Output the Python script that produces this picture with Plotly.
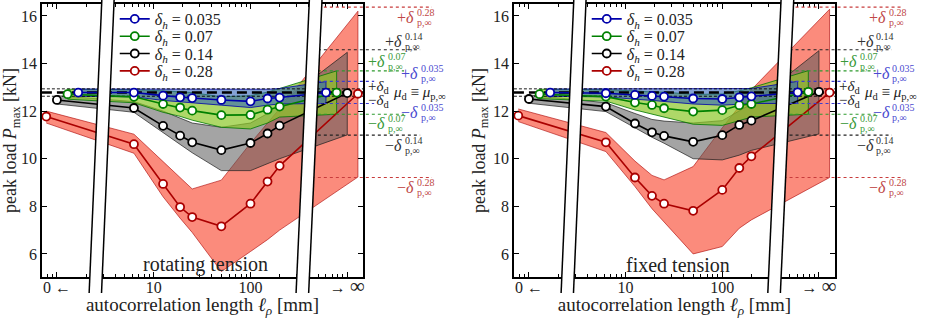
import plotly.graph_objects as go

# ---------------- data ----------------
ell = [6.25, 12.5, 18.75, 25, 50, 100, 150, 200]          # autocorrelation lengths [mm]
tick_vals = [1, 10, 100, 1000]
tick_text = ["0 ←", "10", "100", "→ <span style='font-size:21px'>∞</span>"]
y_ticks = [6, 8, 10, 12, 14, 16]
delta_h = ["0.035", "0.07", "0.14", "0.28"]
panel_titles = ["rotating tension", "fixed tension"]

mu_d = 12.78
delta_d = 0.155
inf_upper = [13.25, 13.69, 14.58, 16.37]     # +delta_p,inf per delta_h
inf_lower = [12.32, 11.87, 10.99, 9.21]      # -delta_p,inf per delta_h

# each list: [ell->0, ell values..., ell->inf]
rot_mean_035 = [12.78, 12.78, 12.65, 12.58, 12.55, 12.47, 12.41, 12.53, 12.57, 12.78]
rot_hi_035 = [12.93, 12.93, 12.92, 12.92, 12.92, 12.90, 12.90, 12.92, 12.95, 13.24]
rot_lo_035 = [12.62, 12.60, 12.45, 12.40, 12.35, 12.25, 12.15, 12.25, 12.30, 12.32]
rot_mean_07 = [12.71, 12.60, 12.30, 12.15, 12.02, 11.83, 11.84, 12.06, 12.19, 12.78]
rot_hi_07 = [12.92, 12.90, 12.85, 12.80, 12.78, 12.60, 12.65, 12.80, 12.95, 13.69]
rot_lo_07 = [12.50, 12.35, 11.95, 11.78, 11.62, 11.32, 11.25, 11.50, 11.75, 11.87]
rot_mean_14 = [12.47, 12.13, 11.38, 10.97, 10.69, 10.36, 10.66, 11.06, 11.39, 12.76]
rot_hi_14 = [12.65, 12.40, 12.00, 11.70, 11.50, 11.32, 11.50, 11.90, 12.30, 14.47]
rot_lo_14 = [12.30, 11.95, 11.10, 10.60, 10.25, 9.50, 9.50, 9.80, 10.00, 11.00]
rot_mean_28 = [11.77, 10.61, 8.94, 7.97, 7.55, 7.16, 8.11, 9.04, 9.70, 12.73]
rot_hi_28 = [12.00, 11.03, 9.88, 9.21, 8.73, 9.10, 10.65, 11.50, 12.10, 16.20]
rot_lo_28 = [11.50, 10.23, 8.40, 7.50, 6.90, 5.26, 6.10, 6.60, 7.00, 9.23]

fix_mean_035 = [12.78, 12.75, 12.68, 12.64, 12.61, 12.53, 12.51, 12.58, 12.62, 12.79]
fix_hi_035 = [12.93, 12.93, 12.93, 12.92, 12.92, 12.92, 12.92, 12.93, 12.95, 13.25]
fix_lo_035 = [12.62, 12.60, 12.50, 12.45, 12.42, 12.30, 12.25, 12.30, 12.32, 12.32]
fix_mean_07 = [12.71, 12.61, 12.36, 12.26, 12.12, 11.98, 12.04, 12.25, 12.30, 12.81]
fix_hi_07 = [12.92, 12.90, 12.85, 12.80, 12.80, 12.70, 12.72, 12.85, 12.98, 13.70]
fix_lo_07 = [12.52, 12.42, 12.05, 11.88, 11.75, 11.45, 11.40, 11.60, 11.75, 11.87]
fix_mean_14 = [12.51, 12.19, 11.48, 11.11, 10.96, 10.71, 10.99, 11.42, 11.60, 12.81]
fix_hi_14 = [12.68, 12.35, 11.90, 11.65, 11.58, 11.50, 11.60, 12.00, 12.30, 14.54]
fix_lo_14 = [12.33, 11.98, 11.30, 10.90, 10.65, 10.00, 9.95, 10.15, 10.35, 11.04]
fix_mean_28 = [11.81, 10.69, 9.21, 8.44, 8.11, 7.81, 8.69, 9.61, 10.10, 12.78]
fix_hi_28 = [12.09, 11.10, 9.90, 9.30, 9.11, 9.67, 11.30, 12.20, 12.90, 16.28]
fix_lo_28 = [11.56, 10.30, 8.83, 7.90, 7.35, 6.00, 6.31, 7.08, 7.43, 9.21]

panels = [
    [(rot_mean_035, rot_hi_035, rot_lo_035), (rot_mean_07, rot_hi_07, rot_lo_07),
     (rot_mean_14, rot_hi_14, rot_lo_14), (rot_mean_28, rot_hi_28, rot_lo_28)],
    [(fix_mean_035, fix_hi_035, fix_lo_035), (fix_mean_07, fix_hi_07, fix_lo_07),
     (fix_mean_14, fix_hi_14, fix_lo_14), (fix_mean_28, fix_hi_28, fix_lo_28)],
]

# ---------------- style / layout ----------------
FONT = "Liberation Serif"
W, H = 927, 318
XR = [-0.155, 3.165]            # log10 range of x axes
YR = [5.03, 16.5]
XDOM = [[0.0453, 0.3927], [0.5556, 0.9026]]
YDOM = [0.1289, 0.9874]
stagger = [0.22, 0.11, 0.0, -0.11]     # decade offsets of the ell->0 / ell->inf markers
line_col = ["#0000aa", "#008000", "#000000", "#aa0000"]
band_fill = ["rgba(50,100,185,0.6)", "rgba(140,200,40,0.7)",
             "rgba(90,90,90,0.55)", "rgba(250,100,80,0.75)"]
band_edge = ["rgba(0,0,170,0.8)", "rgba(0,120,0,0.8)",
             "rgba(30,30,30,0.7)", "rgba(170,0,0,0.6)"]
lab_col = ["#4a4ad0", "#3a9a3a", "#333333", "#c04848"]
dot_col = ["#3c3cd0", "#2e9a2e", "#222222", "#c83c3c"]
line_end = [1.034, 1.127, 1.177, 1.214]     # dotted line end (x domain)
main_end = [1.177, 1.075, 1.127, 1.165]     # label anchor (x domain)
shift_up = [8, 9, 8, -10]
shift_dn = [-9, -9, -10, -10]
breaks = [((0.464, 0.591), (0.333, 0.461)), ((2.608, 2.739), (2.471, 2.601))]
BREAK_BOTTOM = 0.0786
legend_x_px = [115, 588]
legend_row_px = [19, 36.3, 53.6, 71]


def to_dom(v):
    return (v - XR[0]) / (XR[1] - XR[0])


fig = go.Figure()
minor_vals = [k * 10 ** n for n in range(-1, 4) for k in range(2, 10)]
legend_layout = {}

for p, series in enumerate(panels):
    xa = "x" if p == 0 else "x2"
    ya = "y" if p == 0 else "y2"
    xs_all = []
    for i, (m, hi, lo) in enumerate(series):
        xs_all.append([10 ** (0 + stagger[i])] + ell + [10 ** (3 - stagger[i])])
    # bands: red first, blue last
    for i in [3, 2, 1, 0]:
        m, hi, lo = series[i]
        xs = xs_all[i]
        fig.add_trace(go.Scatter(
            x=xs + xs[::-1], y=hi + lo[::-1], fill="toself", mode="lines",
            fillcolor=band_fill[i], line=dict(color=band_edge[i], width=1),
            hoverinfo="skip", showlegend=False, xaxis=xa, yaxis=ya))
    # reference dashed lines
    xspan = [10 ** XR[0], 10 ** XR[1]]
    fig.add_trace(go.Scatter(x=xspan, y=[mu_d, mu_d], mode="lines",
                             line=dict(color="black", width=2.6, dash="10px,5px"),
                             showlegend=False, hoverinfo="skip", xaxis=xa, yaxis=ya))
    for s in (1, -1):
        fig.add_trace(go.Scatter(x=xspan, y=[mu_d + s * delta_d] * 2, mode="lines",
                                 line=dict(color="black", width=0.9, dash="3px,2px"),
                                 showlegend=False, hoverinfo="skip", xaxis=xa, yaxis=ya))
    # series (one single-entry legend per row)
    for i in [3, 2, 1, 0]:
        m, hi, lo = series[i]
        lname = "legend" + ("" if p == 0 and i == 0 else str(p * 4 + i + 1))
        fig.add_trace(go.Scatter(
            x=xs_all[i], y=m, mode="lines+markers",
            name="<i>δ</i><sub><i>h</i></sub> = " + delta_h[i],
            line=dict(color=line_col[i], width=1.6),
            marker=dict(symbol="circle", size=8, color="white",
                        line=dict(color=line_col[i], width=1.8)),
            legend=lname, xaxis=xa, yaxis=ya))
        legend_layout[lname] = dict(
            x=legend_x_px[p] / W, y=1 - legend_row_px[i] / H, xanchor="left", yanchor="middle",
            bgcolor="rgba(0,0,0,0)", font=dict(size=16, family=FONT, color="#222"),
            itemwidth=30, borderwidth=0)

    xdref = xa + " domain"
    # dotted limit lines and labels
    for i in range(4):
        for sign, val, sh in (("+", inf_upper[i], shift_up[i]), ("−", inf_lower[i], shift_dn[i])):
            fig.add_shape(type="line", xref=xdref, yref=ya, x0=0.84, x1=line_end[i],
                          y0=val, y1=val, line=dict(color=dot_col[i], width=1.1, dash="dot"))
            fig.add_annotation(xref=xdref, yref=ya, x=main_end[i], y=val, yshift=sh,
                               text=sign + "<i>δ</i>", showarrow=False, xanchor="right",
                               yanchor="middle", font=dict(size=16, color=lab_col[i]))
            fig.add_annotation(xref=xdref, yref=ya, x=main_end[i] - 0.004, y=val, yshift=sh + 5,
                               text=delta_h[i], showarrow=False, xanchor="left",
                               yanchor="middle", font=dict(size=10, color=lab_col[i]))
            fig.add_annotation(xref=xdref, yref=ya, x=main_end[i] - 0.004, y=val, yshift=sh - 5,
                               text="p,∞", showarrow=False, xanchor="left",
                               yanchor="middle", font=dict(size=10, color=lab_col[i]))
    fig.add_annotation(xref=xdref, yref=ya, x=1.008, y=mu_d, yshift=6, text="+<i>δ</i><sub>d</sub>",
                       showarrow=False, xanchor="left", font=dict(size=15, color="#222"))
    fig.add_annotation(xref=xdref, yref=ya, x=1.008, y=mu_d, yshift=-8, text="−<i>δ</i><sub>d</sub>",
                       showarrow=False, xanchor="left", font=dict(size=15, color="#222"))
    fig.add_annotation(xref=xdref, yref=ya, x=1.085, y=mu_d, yshift=0,
                       text="<i>μ</i><sub>d</sub> ≡ <i>μ</i><sub>p,∞</sub>",
                       showarrow=False, xanchor="left", font=dict(size=15, color="#222"))
    fig.add_annotation(xref=xdref, yref=ya + " domain", x=0.51, y=0.045,
                       text=panel_titles[p], showarrow=False, xanchor="center",
                       yanchor="middle", font=dict(size=20, color="#222"))
    # axis breaks
    for (top, bot) in breaks:
        tl, tr = to_dom(top[0]), to_dom(top[1])
        bl, br = to_dom(bot[0]), to_dom(bot[1])
        fig.add_shape(type="path", xref=xdref, yref="paper", layer="above",
                      path=f"M {bl},{BREAK_BOTTOM} L {tl},1.0 L {tr},1.0 L {br},{BREAK_BOTTOM} Z",
                      fillcolor="white", line=dict(width=0))
        fig.add_shape(type="line", xref=xdref, yref="paper", layer="above",
                      x0=bl, y0=BREAK_BOTTOM, x1=tl, y1=1.0, line=dict(color="black", width=1.5))
        fig.add_shape(type="line", xref=xdref, yref="paper", layer="above",
                      x0=br, y0=BREAK_BOTTOM, x1=tr, y1=1.0, line=dict(color="black", width=1.5))

axis_common = dict(showline=True, linecolor="black", linewidth=1.5, mirror="ticks",
                   showgrid=False, zeroline=False, ticks="inside", tickcolor="black",
                   tickfont=dict(size=16, color="#222"))
for p in range(2):
    xkey = "xaxis" if p == 0 else "xaxis2"
    ykey = "yaxis" if p == 0 else "yaxis2"
    fig.update_layout({
        xkey: dict(type="log", domain=XDOM[p], range=XR, anchor="y" if p == 0 else "y2",
                   tickmode="array", tickvals=tick_vals, ticktext=tick_text, ticklen=5,
                   ticklabelstandoff=-5,
                   minor=dict(tickmode="array", tickvals=minor_vals, ticks="inside",
                              ticklen=3, tickcolor="black"),
                   title=dict(text="autocorrelation length <i>ℓ</i><sub><i>ρ</i></sub> [mm]",
                              font=dict(size=19, color="#222"), standoff=2),
                   **axis_common),
        ykey: dict(domain=YDOM, range=YR, anchor="x" if p == 0 else "x2",
                   tickmode="array", tickvals=y_ticks, ticklen=5,
                   title=dict(text="peak load <i>P</i><sub>max</sub> [kN]",
                              font=dict(size=18, color="#222"), standoff=3),
                   **axis_common),
    })

fig.update_layout(
    **legend_layout,
    width=W, height=H, margin=dict(l=0, r=0, t=0, b=0),
    paper_bgcolor="white", plot_bgcolor="white",
    font=dict(family=FONT, color="#222"),
)

fig.write_html("out.html", config={"displayModeBar": False},
               post_script="document.body.style.margin='0px';"
                           "document.body.style.overflow='hidden';")
